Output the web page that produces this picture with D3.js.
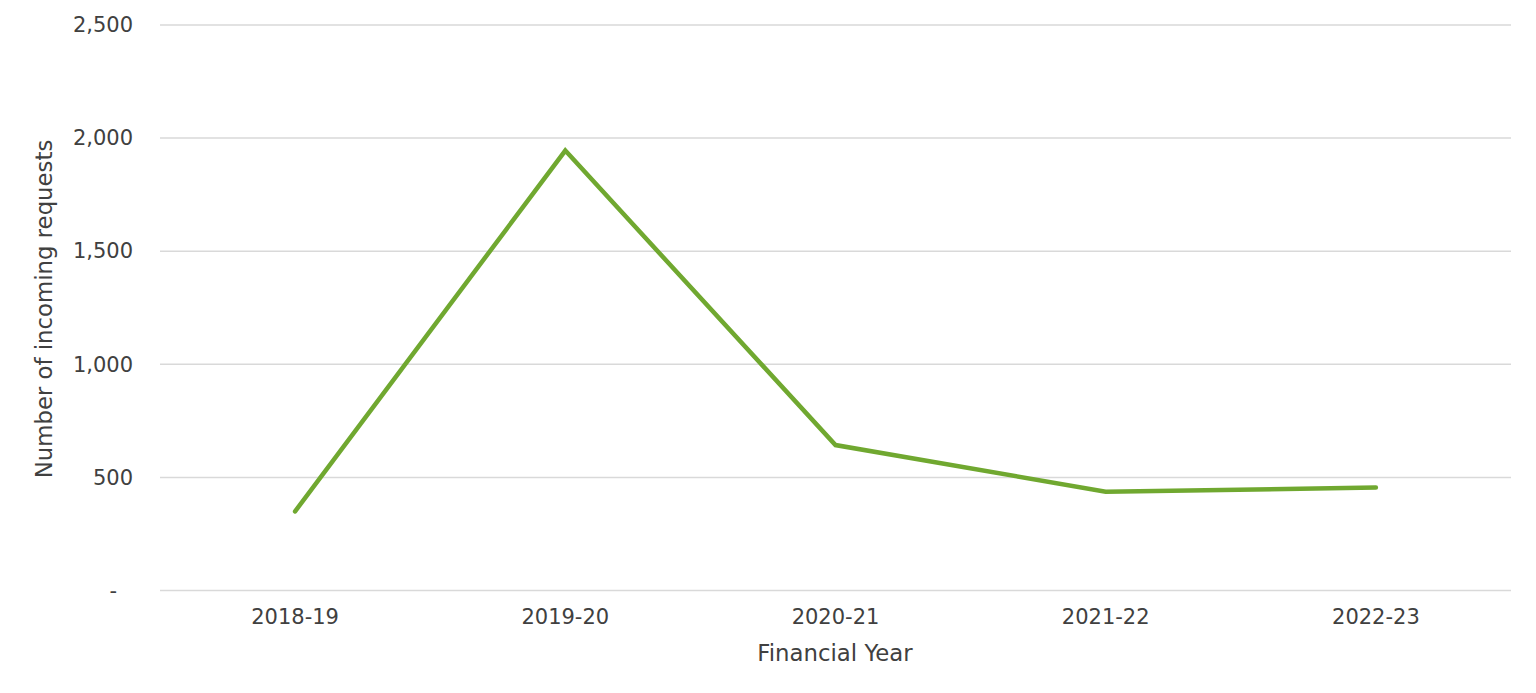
<!DOCTYPE html>
<html><head><meta charset="utf-8">
<script src="https://cdn.jsdelivr.net/npm/d3@7"></script>
<style>
html,body{margin:0;padding:0;background:#fff;}
svg text{font-family:"DejaVu Sans",Verdana,sans-serif;fill:#404040;}
</style></head>
<body>
<svg id="c" width="1536" height="693"></svg>
<script>
const categories = ["2018-19","2019-20","2020-21","2021-22","2022-23"];
const requests = [350, 1945, 643, 437, 455];
const yTicks = [0, 500, 1000, 1500, 2000, 2500];
const yTitle = "Number of incoming requests";
const xTitle = "Financial Year";

(function () {
const svg = d3.select("#c");
const mLeft = 160, mRight = 1511, mTop = 25, mBottom = 590.5;

const x = d3.scaleBand().domain(categories).range([mLeft, mRight]);
const y = d3.scaleLinear().domain([0, 2500]).range([mBottom, mTop]);

// gridlines
svg.append("g").selectAll("line").data(yTicks).join("line")
  .attr("x1", mLeft).attr("x2", mRight)
  .attr("y1", d => y(d)).attr("y2", d => y(d))
  .attr("stroke", "#d9d9d9").attr("stroke-width", 1.5);

// y axis labels
const fmt = d3.format(",");
const yAxis = d3.axisLeft(y).tickValues(yTicks).tickSize(0).tickPadding(0)
  .tickFormat(d => d === 0 ? "-" : fmt(d));
const gy = svg.append("g").attr("transform", `translate(133,0)`).call(yAxis);
gy.select(".domain").remove();
gy.attr("font-family", null).attr("font-size", null);
gy.selectAll("text").attr("font-size", 21).attr("fill", "#404040")
  .attr("dx", d => d === 0 ? -16 : 0);

// x axis labels
const xAxis = d3.axisBottom(x).tickSize(0).tickPadding(0);
const gx = svg.append("g").attr("transform", `translate(0,609)`).call(xAxis);
gx.select(".domain").remove();
gx.attr("font-family", null).attr("font-size", null);
gx.selectAll("text").attr("font-size", 21).attr("fill", "#404040");

// line
const line = d3.line().x((d, i) => x(categories[i]) + x.bandwidth() / 2).y(d => y(d));
svg.append("path").datum(requests)
  .attr("d", line).attr("fill", "none")
  .attr("stroke", "#70a830").attr("stroke-width", 4.5)
  .attr("stroke-linejoin", "miter").attr("stroke-linecap", "round");

// titles
svg.append("text").attr("x", 835).attr("y", 661).attr("text-anchor", "middle")
  .attr("font-size", 22.8).text(xTitle);
svg.append("text").attr("transform", "translate(52,309) rotate(-90)")
  .attr("text-anchor", "middle").attr("font-size", 22.8).text(yTitle);
})();
</script>
</body></html>
